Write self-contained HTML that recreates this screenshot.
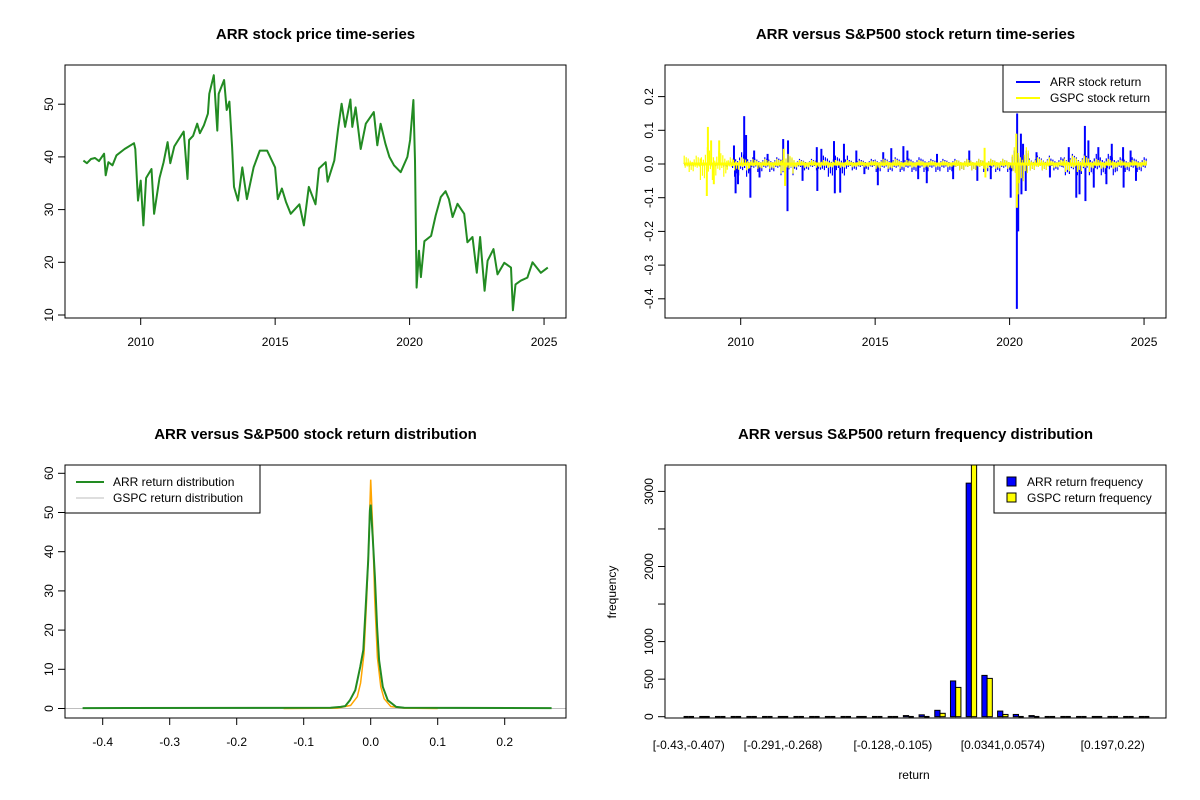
<!DOCTYPE html>
<html><head><meta charset="utf-8"><style>
body{margin:0;background:#fff}
svg{display:block;font-family:"Liberation Sans",Arial,sans-serif}
</style></head><body>
<svg id="c" width="1200" height="800" viewBox="0 0 1200 800">
<rect width="1200" height="800" fill="#fff"/>
</svg>
<script>
// ---- price panel data
const priceYears=[2007.87,2008.0,2008.15,2008.3,2008.45,2008.64,2008.7,2008.8,2008.95,2009.1,2009.4,2009.75,2009.8,2009.9,2010.0,2010.1,2010.2,2010.4,2010.5,2010.7,2010.85,2011.0,2011.1,2011.25,2011.4,2011.6,2011.74,2011.8,2011.95,2012.1,2012.2,2012.35,2012.5,2012.55,2012.72,2012.85,2012.9,2013.1,2013.2,2013.3,2013.4,2013.47,2013.62,2013.78,2013.95,2014.2,2014.43,2014.7,2015.0,2015.1,2015.25,2015.4,2015.58,2015.9,2016.07,2016.25,2016.5,2016.63,2016.88,2016.95,2017.2,2017.34,2017.47,2017.6,2017.8,2017.87,2017.99,2018.18,2018.37,2018.67,2018.8,2018.92,2019.1,2019.25,2019.42,2019.67,2019.92,2020.02,2020.14,2020.2,2020.26,2020.35,2020.42,2020.55,2020.8,2020.97,2021.16,2021.34,2021.46,2021.6,2021.78,2022.03,2022.15,2022.34,2022.5,2022.62,2022.79,2022.9,2023.12,2023.27,2023.52,2023.77,2023.84,2023.94,2024.13,2024.38,2024.57,2024.88,2025.14];
const priceVals=[39.3,38.8,39.6,39.8,39.2,40.6,36.5,39,38.4,40.3,41.5,42.6,41.5,31.7,35.5,27,36,37.7,29.2,36,39,42.8,38.8,42,43.2,44.8,35.8,43.2,44,46.3,44.5,46,48.2,52,55.5,45,52,54.6,48.9,50.5,41.9,34.3,31.7,38,32,38,41.2,41.2,38,32,34,31.5,29.2,31,27,34.3,31,37.8,39,35.3,39.3,45.3,50.1,45.7,50.9,45.7,49.4,41.5,46.3,48.5,42.2,46.3,42.5,40,38.4,37.1,40,43.2,50.8,39.3,15.2,22.2,17.2,24,25,28.9,32.4,33.5,32,28.6,31.1,29.2,23.8,24.8,18,24.8,14.6,20.3,22.5,17.7,19.9,19,10.9,15.8,16.5,17.1,20,18,19];
const priceTicks=[10,20,30,40,50];
const yearTicks=[2010,2015,2020,2025];
// ---- return panel data (amplitude envelope segments + spikes)
const envYears=[2007.9,2008.5,2009.0,2009.5,2009.7,2010.3,2011.5,2012.0,2013.0,2014.0,2015.0,2016.0,2017.0,2018.0,2019.0,2020.1,2020.7,2021.5,2022.0,2023.0,2024.0,2025.1];
const arrUp=[0.004,0.004,0.004,0.008,0.035,0.02,0.025,0.015,0.025,0.015,0.02,0.02,0.015,0.015,0.015,0.04,0.025,0.02,0.03,0.03,0.02];
const arrDown=[-0.008,-0.008,-0.008,-0.01,-0.04,-0.025,-0.035,-0.02,-0.04,-0.02,-0.025,-0.025,-0.025,-0.02,-0.025,-0.05,-0.02,-0.02,-0.035,-0.035,-0.025];
const gspcUp=[0.025,0.05,0.04,0.02,0.02,0.015,0.03,0.012,0.012,0.01,0.015,0.012,0.01,0.015,0.015,0.05,0.02,0.012,0.025,0.015,0.012];
const gspcDown=[-0.025,-0.05,-0.04,-0.02,-0.02,-0.015,-0.03,-0.012,-0.012,-0.01,-0.015,-0.012,-0.01,-0.02,-0.015,-0.06,-0.02,-0.012,-0.025,-0.015,-0.012];
const arrSpikeYears=[2009.75,2009.81,2009.9,2010.13,2010.2,2010.36,2010.5,2010.7,2011.0,2011.58,2011.74,2011.76,2012.3,2012.83,2012.85,2013.0,2013.47,2013.5,2013.7,2013.84,2014.3,2014.6,2015.1,2015.3,2015.6,2016.05,2016.2,2016.6,2016.92,2017.3,2017.9,2018.5,2018.8,2019.3,2020.04,2020.27,2020.28,2020.32,2020.42,2020.44,2020.5,2020.6,2021.0,2021.5,2022.2,2022.48,2022.6,2022.8,2022.82,2022.93,2023.13,2023.3,2023.6,2023.8,2024.22,2024.24,2024.5,2024.7];
const arrSpikeVals=[0.055,-0.087,-0.06,0.142,0.086,-0.1,0.04,-0.04,0.03,0.074,-0.14,0.07,-0.05,0.05,-0.08,0.045,0.068,-0.087,-0.085,0.06,0.04,-0.03,-0.063,0.035,0.047,0.053,0.04,-0.045,-0.057,0.03,-0.045,0.04,-0.05,-0.045,-0.1,-0.43,0.15,-0.2,0.09,-0.09,0.06,-0.08,0.035,-0.04,0.05,-0.1,-0.09,0.113,-0.11,0.07,-0.07,0.05,-0.06,0.06,0.05,-0.07,0.04,-0.05];
const gspcSpikeYears=[2008.74,2008.78,2008.9,2009.0,2009.2,2011.6,2011.65,2019.07,2019.1,2020.25,2020.27,2020.3];
const gspcSpikeVals=[-0.095,0.11,0.07,-0.06,0.07,0.045,-0.065,0.048,-0.04,0.09,-0.13,-0.09];
const retTicks=[-0.4,-0.3,-0.2,-0.1,0.0,0.1,0.2];
// ---- density panel data
const arrDensX=[-0.43,-0.06,-0.045,-0.038,-0.031,-0.023,-0.0157,-0.011,-0.0077,-0.0037,-0.0012,0,0.003,0.0063,0.0096,0.0126,0.018,0.0255,0.038,0.05,0.27];
const arrDensY=[0.1,0.2,0.4,0.6,2.1,4.7,10.6,14.9,25,37.8,50.6,52,43.8,33.6,20.8,12.3,5.5,2.1,0.4,0.2,0.1];
const gspcDensX=[-0.13,-0.05,-0.03,-0.02,-0.015,-0.01,-0.006,-0.003,0,0.003,0.006,0.01,0.015,0.02,0.03,0.05,0.1];
const gspcDensY=[0,0.1,0.8,3,6.5,14,28,42,58.4,46,28,13,5.5,2.5,0.5,0.1,0];
const densXTicks=[-0.4,-0.3,-0.2,-0.1,0.0,0.1,0.2];
const densYTicks=[0,10,20,30,40,50,60];
// ---- histogram data
const binLabels=["[-0.43,-0.407)","[-0.291,-0.268)","[-0.128,-0.105)","[0.0341,0.0574)","[0.197,0.22)"];
const binLabelIdx=[0,6,13,20,27];
const arrFreq=[1,0,0,1,0,0,1,0,1,1,2,2,12,3,15,25,85,476,3110,550,75,30,15,3,1,1,0,0,1,1];
const gspcFreq=[0,0,0,0,0,0,0,0,0,0,0,0,4,1,8,12,45,390,3900,510,30,12,8,1,0,0,0,0,0,0];
const freqTicks=[0,500,1000,1500,2000,2500,3000];
const freqLabels=["0","500","1000","","2000","","3000"];

const NS="http://www.w3.org/2000/svg";
const svg=document.getElementById('c');
function el(tag,attrs,parent){const e=document.createElementNS(NS,tag);for(const k in attrs)e.setAttribute(k,attrs[k]);(parent||svg).appendChild(e);return e;}
function txt(s,attrs,parent){const e=el('text',attrs,parent);e.textContent=s;return e;}

function panel(name,x0,x1,y0,y1,title){
  const g=el('g',{});
  
  
  const t=txt(title,{x:(x0+x1)/2,y:y0-26,'text-anchor':'middle','font-size':15,'font-weight':'bold'},g);
  
  
  return g;
}
function box(g,x0,x1,y0,y1){const b=el('rect',{x:x0,y:y0,width:x1-x0,height:y1-y0,fill:'none',stroke:'#000','stroke-width':1},g);}
function xTicks(g,vals,labels,fx,yb,ly){
  const a=el('g',{},g);
  
  
  vals.forEach((v,i)=>{const x=fx(v);el('line',{x1:x,x2:x,y1:yb,y2:yb+7,stroke:'#000'},a);
    const t=txt(labels[i],{x:x,y:ly,'text-anchor':'middle','font-size':12},a);
    
    });
  el('line',{x1:fx(vals[0]),x2:fx(vals[vals.length-1]),y1:yb,y2:yb,stroke:'#000'},a);
}
function yTicks(g,vals,labels,fy,xa){
  const a=el('g',{},g);
  
  
  vals.forEach((v,i)=>{const y=fy(v);el('line',{x1:xa-7,x2:xa,y1:y,y2:y,stroke:'#000'},a);
    if(labels[i]!==''){const t=txt(labels[i],{x:0,y:0,'text-anchor':'middle','font-size':12,transform:`translate(${xa-12},${y}) rotate(-90)`},a);
    
    }});
  el('line',{x1:xa,x2:xa,y1:fy(vals[0]),y2:fy(vals[vals.length-1]),stroke:'#000'},a);
}

// ===== Panel 1: price
(function(){
  const X0=65,X1=566,Y0=65,Y1=318;
  const fx=y=>140.7+(y-2010)*26.89, fy=v=>315-(v-10)*5.27;
  const g=panel('price-panel',X0,X1,Y0,Y1,'ARR stock price time-series');
  const d=priceYears.map((y,i)=>(i?'L':'M')+fx(y).toFixed(1)+','+fy(priceVals[i]).toFixed(1)).join('');
  const p=el('path',{d:d,fill:'none',stroke:'#228b22','stroke-width':2,'stroke-linejoin':'round'},g);
  
  
  box(g,X0,X1,Y0,Y1);
  xTicks(g,yearTicks,yearTicks.map(String),fx,Y1,346);
  yTicks(g,priceTicks,priceTicks.map(String),fy,X0);
})();

// ===== Panel 2: returns
(function(){
  const X0=665,X1=1166,Y0=65,Y1=318;
  const fx=y=>740.7+(y-2010)*26.89, fy=v=>164-v*337;
  const g=panel('return-panel',X0,X1,Y0,Y1,'ARR versus S&P500 stock return time-series');
  const texture=[1,0.45,0.8,0.3,0.65,0.95,0.4,0.7,0.25,0.85,0.55,0.35];
  function series(name,up,down,sy,sv,color){
    const s=el('g',{},g);
    
    
    let d='',k=0;
    for(let i=0;i<up.length;i++){
      const xa=fx(envYears[i]),xb=fx(envYears[i+1]);
      for(let x=xa;x<xb;x+=1.0){
        const f=texture[k%texture.length];
        const v=(k%2===0)?up[i]*f:down[i]*f;
        d+='M'+x.toFixed(1)+','+fy(0).toFixed(1)+'V'+fy(v).toFixed(1);
        k++;
      }
    }
    el('path',{d:d,fill:'none',stroke:color,'stroke-width':1.2},s);
    el('line',{x1:fx(envYears[0]),x2:fx(envYears[envYears.length-1]),y1:fy(0),y2:fy(0),stroke:color,'stroke-width':3},s);
    sy.forEach((y,i)=>{el('line',{x1:fx(y),x2:fx(y),y1:fy(0),y2:fy(sv[i]),stroke:color,'stroke-width':2},s);});
  }
  series('arr-return-series',arrUp,arrDown,arrSpikeYears,arrSpikeVals,'#0000ff');
  series('gspc-return-series',gspcUp,gspcDown,gspcSpikeYears,gspcSpikeVals,'#ffff00');
  box(g,X0,X1,Y0,Y1);
  xTicks(g,yearTicks,yearTicks.map(String),fx,Y1,346);
  yTicks(g,retTicks,retTicks.map(v=>v.toFixed(1)),fy,X0);
  const L=el('g',{},g);
  
  
  el('rect',{x:1003,y:65,width:163,height:47,fill:'#fff',stroke:'#000'},L);
  el('line',{x1:1016,x2:1040,y1:82,y2:82,stroke:'#0000ff','stroke-width':2},L);
  el('line',{x1:1016,x2:1040,y1:98,y2:98,stroke:'#ffff00','stroke-width':2},L);
  txt('ARR stock return',{x:1050,y:86,'font-size':12},L);
  txt('GSPC stock return',{x:1050,y:102,'font-size':12},L);
})();

// ===== Panel 3: density
(function(){
  const X0=65,X1=566,Y0=465,Y1=718;
  const fx=v=>370.7+v*670, fy=v=>708.5-v*3.92;
  const g=panel('density-panel',X0,X1,Y0,Y1,'ARR versus S&P500 stock return distribution');
  const base=el('line',{x1:X0,x2:X1,y1:fy(0),y2:fy(0),stroke:'#bebebe','stroke-width':1},g);
  
  
  const dg=gspcDensX.map((x,i)=>(i?'L':'M')+fx(x).toFixed(1)+','+fy(gspcDensY[i]).toFixed(1)).join('');
  const p2=el('path',{d:dg,fill:'none',stroke:'#ffa500','stroke-width':1.5},g);
  
  
  const da=arrDensX.map((x,i)=>(i?'L':'M')+fx(x).toFixed(1)+','+fy(arrDensY[i]).toFixed(1)).join('');
  const p1=el('path',{d:da,fill:'none',stroke:'#228b22','stroke-width':2},g);
  
  
  box(g,X0,X1,Y0,Y1);
  xTicks(g,densXTicks,densXTicks.map(v=>v.toFixed(1)),fx,Y1,746);
  yTicks(g,densYTicks,densYTicks.map(String),fy,X0);
  const L=el('g',{},g);
  
  
  el('rect',{x:65,y:465,width:195,height:48,fill:'#fff',stroke:'#000'},L);
  el('line',{x1:76,x2:104,y1:482,y2:482,stroke:'#228b22','stroke-width':2},L);
  el('line',{x1:76,x2:104,y1:498,y2:498,stroke:'#bebebe','stroke-width':1},L);
  txt('ARR return distribution',{x:113,y:486,'font-size':12},L);
  txt('GSPC return distribution',{x:113,y:502,'font-size':12},L);
})();

// ===== Panel 4: histogram
(function(){
  const X0=665,X1=1166,Y0=465,Y1=718;
  const step=15.7, bw=5.23, first=688.8-2*bw;
  const fy=v=>716.7-v*0.0751;
  const g=panel('histogram-panel',X0,X1,Y0,Y1,'ARR versus S&P500 return frequency distribution');
  const cp=el('clipPath',{id:'hc'},g);
  el('rect',{x:X0,y:Y0,width:X1-X0,height:Y1-Y0},cp);
  const bars=el('g',{'clip-path':'url(#hc)'},g);
  
  
  function bar(x,v,color,name){
    const h=fy(0)-fy(v);
    if(h<1){
      const l=el('line',{x1:x,x2:x+bw,y1:fy(0),y2:fy(0),stroke:'#000','stroke-width':1.5},bars);
      
      
    } else {
      const r=el('rect',{x:x,y:fy(v),width:bw,height:h,fill:color,stroke:'#000','stroke-width':1},bars);
      
      
    }
  }
  arrFreq.forEach((v,i)=>{
    const xb=first+i*step+bw;
    bar(xb,v,'#0000ff','bar-arr');
    bar(xb+bw,gspcFreq[i],'#ffff00','bar-gspc');
  });
  box(g,X0,X1,Y0,Y1);
  binLabelIdx.forEach((b,i)=>{
    const t=txt(binLabels[i],{x:first+b*step+2*bw,y:749,'text-anchor':'middle','font-size':12},g);
    
    
  });
  yTicks(g,freqTicks,freqLabels,fy,X0);
  const xl=txt('return',{x:914,y:779,'text-anchor':'middle','font-size':12},g);
  
  
  const yl=txt('frequency',{x:0,y:0,'text-anchor':'middle','font-size':12,transform:'translate(616,592) rotate(-90)'},g);
  
  
  const L=el('g',{},g);
  
  
  el('rect',{x:994,y:465,width:172,height:48,fill:'#fff',stroke:'#000'},L);
  el('rect',{x:1007,y:477,width:9,height:9,fill:'#0000ff',stroke:'#000'},L);
  el('rect',{x:1007,y:493,width:9,height:9,fill:'#ffff00',stroke:'#000'},L);
  txt('ARR return frequency',{x:1027,y:486,'font-size':12},L);
  txt('GSPC return frequency',{x:1027,y:502,'font-size':12},L);
})();
</script>
</body></html>
